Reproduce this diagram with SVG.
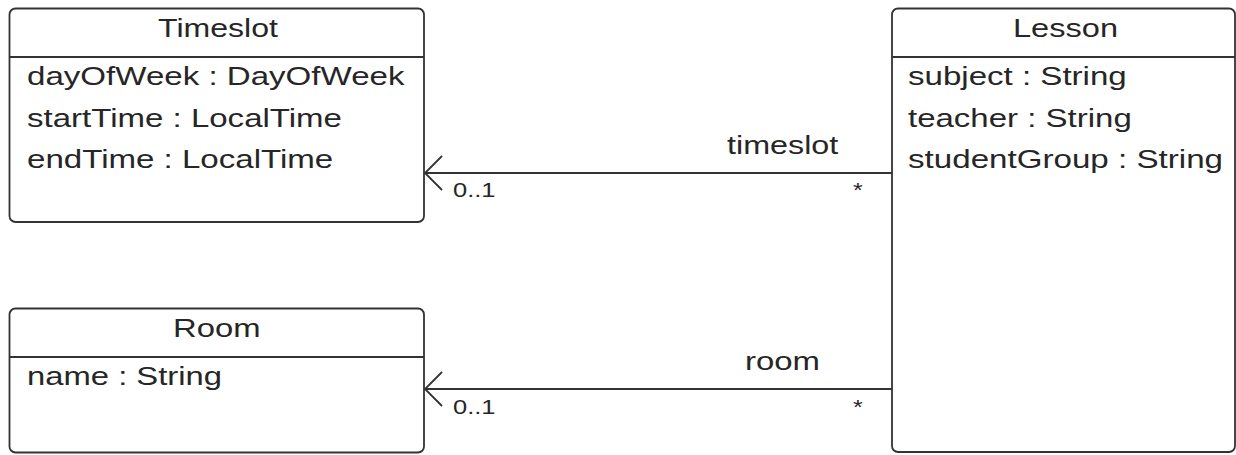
<svg xmlns="http://www.w3.org/2000/svg" width="1236" height="455" viewBox="0 0 1236 455">
<style>
  .box{fill:#ffffff;stroke:#333333;stroke-width:1.8}
  .sep{stroke:#333333;stroke-width:1.8}
  .conn{fill:none;stroke:#333333;stroke-width:1.8}
  text{font-family:"Liberation Sans",Arial,sans-serif;fill:#262626}
  .t{font-size:26px}
  .m{font-size:20px}
</style>
<rect width="1236" height="455" fill="#ffffff"/>
<g id="Timeslot">
  <rect class="box" x="9.5" y="8.5" width="414.5" height="213.5" rx="6"/>
  <line class="sep" x1="9.5" y1="57" x2="424" y2="57"/>
  <text class="t" transform="translate(158,37) scale(1.25,1)" textLength="96" lengthAdjust="spacingAndGlyphs">Timeslot</text>
  <text class="t" transform="translate(27,85) scale(1.25,1)" textLength="302" lengthAdjust="spacingAndGlyphs">dayOfWeek : DayOfWeek</text>
  <text class="t" transform="translate(27,127) scale(1.25,1)" textLength="252" lengthAdjust="spacingAndGlyphs">startTime : LocalTime</text>
  <text class="t" transform="translate(27,168) scale(1.25,1)" textLength="245" lengthAdjust="spacingAndGlyphs">endTime : LocalTime</text>
</g>
<g id="Room">
  <rect class="box" x="9.5" y="308.5" width="414.5" height="144" rx="6"/>
  <line class="sep" x1="9.5" y1="357" x2="424" y2="357"/>
  <text class="t" transform="translate(173,337) scale(1.25,1)" textLength="70" lengthAdjust="spacingAndGlyphs">Room</text>
  <text class="t" transform="translate(27,385) scale(1.25,1)" textLength="156" lengthAdjust="spacingAndGlyphs">name : String</text>
</g>
<g id="Lesson">
  <rect class="box" x="892" y="8.5" width="343" height="443.5" rx="6"/>
  <line class="sep" x1="892" y1="57" x2="1235" y2="57"/>
  <text class="t" transform="translate(1013,37) scale(1.25,1)" textLength="84" lengthAdjust="spacingAndGlyphs">Lesson</text>
  <text class="t" transform="translate(908,85) scale(1.25,1)" textLength="175" lengthAdjust="spacingAndGlyphs">subject : String</text>
  <text class="t" transform="translate(908,127) scale(1.25,1)" textLength="179" lengthAdjust="spacingAndGlyphs">teacher : String</text>
  <text class="t" transform="translate(908,168) scale(1.25,1)" textLength="252" lengthAdjust="spacingAndGlyphs">studentGroup : String</text>
</g>
<g id="connectors">
  <g id="lesson-timeslot">
    <line class="conn" x1="892" y1="173" x2="425" y2="173"/>
    <polyline class="conn" points="442,156 425,173 442,190"/>
    <text class="t" transform="translate(727,154) scale(1.25,1)" textLength="89" lengthAdjust="spacingAndGlyphs">timeslot</text>
    <text class="m" transform="translate(453,197) scale(1.25,1)" textLength="34" lengthAdjust="spacingAndGlyphs">0..1</text>
    <text class="m" transform="translate(853,197) scale(1.25,1)">*</text>
  </g>
  <g id="lesson-room">
    <line class="conn" x1="892" y1="389" x2="425" y2="389"/>
    <polyline class="conn" points="442,372 425,389 442,406"/>
    <text class="t" transform="translate(745,370) scale(1.25,1)" textLength="60" lengthAdjust="spacingAndGlyphs">room</text>
    <text class="m" transform="translate(453,414) scale(1.25,1)" textLength="34" lengthAdjust="spacingAndGlyphs">0..1</text>
    <text class="m" transform="translate(853,414) scale(1.25,1)">*</text>
  </g>
</g>
</svg>
